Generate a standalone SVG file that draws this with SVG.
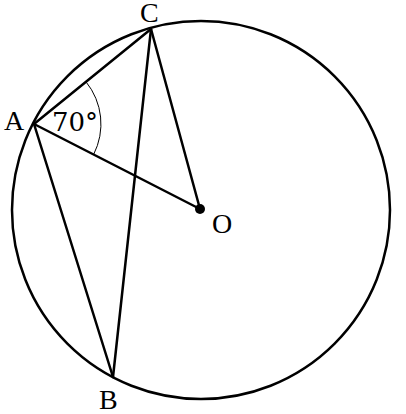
<svg xmlns="http://www.w3.org/2000/svg" width="406" height="414" viewBox="0 0 406 414">
<style>
.l{stroke:#000;stroke-width:2.5;fill:none;stroke-linecap:round}
.t{font-family:"Liberation Serif","DejaVu Serif",serif;font-size:28px;fill:#000}
.d{font-family:"DejaVu Serif","Liberation Serif",serif;font-size:26px;fill:#000}
</style>
<rect width="406" height="414" fill="#fff"/>
<g id="circle"><circle cx="201" cy="210" r="189" class="l"/></g>
<g id="connectors">
<line x1="34" y1="124" x2="151" y2="29" class="l"/>
<line x1="34" y1="124" x2="200" y2="209" class="l"/>
<line x1="34" y1="124" x2="113" y2="377" class="l"/>
<line x1="151" y1="29" x2="113" y2="377" class="l"/>
<line x1="151" y1="29" x2="200" y2="209" class="l"/>
<path d="M86 81.8 A67 67 0 0 1 93.6 154.5" fill="none" stroke="#000" stroke-width="1"/>
</g>
<g id="O"><circle cx="200" cy="209" r="5" fill="#000"/><text x="212" y="233" class="t">O</text></g>
<g id="A"><text x="4" y="130" class="t">A</text><text x="52" y="131" class="d">70°</text></g>
<g id="C"><text x="140" y="22" class="t">C</text></g>
<g id="B"><text x="99" y="409" class="t">B</text></g>
</svg>
